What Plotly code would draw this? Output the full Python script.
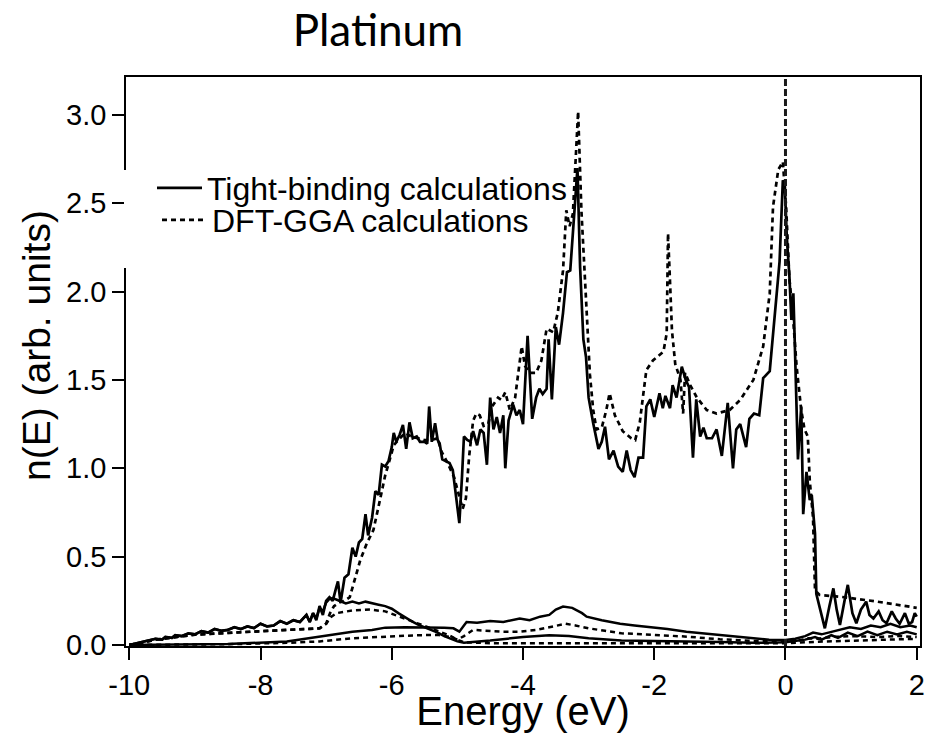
import plotly.graph_objects as go

# ---------------- data ----------------
x_tick_vals = [-10, -8, -6, -4, -2, 0, 2]
x_tick_text = ["-10", "-8", "-6", "-4", "-2", "0", "2"]
y_tick_vals = [0.0, 0.5, 1.0, 1.5, 2.0, 2.5, 3.0]
y_tick_text = ["0.0", "0.5", "1.0", "1.5", "2.0", "2.5", "3.0"]

fermi_energy = 0.0

# Tight-binding total DOS
tb_energy = [
    -10.0, -9.9, -9.8, -9.7, -9.6, -9.5, -9.45, -9.35, -9.3, -9.2,
    -9.1, -9.0, -8.9, -8.8, -8.7, -8.6, -8.5, -8.4, -8.3, -8.2,
    -8.1, -8.0, -7.9, -7.8, -7.7, -7.6, -7.5, -7.4, -7.3, -7.25,
    -7.2, -7.15, -7.1, -7.05, -7.0, -6.95, -6.9, -6.85, -6.82, -6.78,
    -6.72, -6.66, -6.6, -6.55, -6.5, -6.45, -6.4, -6.36, -6.3, -6.25,
    -6.2, -6.15, -6.1, -6.05, -6.0, -5.97, -5.93, -5.88, -5.83, -5.78,
    -5.73, -5.68, -5.62, -5.57, -5.5, -5.46, -5.43, -5.39, -5.34, -5.3,
    -5.27, -5.23, -5.17, -5.12, -5.07, -5.03, -4.97, -4.93, -4.9, -4.85,
    -4.8, -4.76, -4.7, -4.65, -4.6, -4.55, -4.5, -4.45, -4.4, -4.35,
    -4.3, -4.27, -4.22, -4.15, -4.1, -4.05, -4.0, -3.93, -3.86, -3.8,
    -3.75, -3.7, -3.64, -3.61, -3.56, -3.5, -3.45, -3.39, -3.33, -3.28,
    -3.22, -3.17, -3.13, -3.08, -3.04, -3.0, -2.93, -2.85, -2.8, -2.75,
    -2.69, -2.62, -2.55, -2.48, -2.42, -2.36, -2.3, -2.24, -2.17, -2.12,
    -2.06, -2.0, -1.92, -1.87, -1.83, -1.76, -1.72, -1.66, -1.58, -1.52,
    -1.47, -1.41, -1.36, -1.3, -1.25, -1.2, -1.12, -1.05, -0.97, -0.88,
    -0.8, -0.75, -0.69, -0.6, -0.55, -0.48, -0.4, -0.34, -0.24, -0.16,
    -0.09, -0.04, -0.01, 0.02, 0.06, 0.09, 0.12, 0.15, 0.19, 0.24,
    0.27, 0.32, 0.37, 0.40, 0.45, 0.47, 0.53, 0.60, 0.67, 0.73,
    0.78, 0.83, 0.90, 0.95, 1.02, 1.08, 1.15, 1.23, 1.28, 1.34,
    1.42, 1.48, 1.54, 1.62, 1.68, 1.74, 1.82, 1.88, 1.93, 1.97,
    2.0,
]
tb_dos = [
    0.0, 0.008, 0.015, 0.025, 0.035, 0.030, 0.045, 0.040, 0.055, 0.050,
    0.065, 0.060, 0.078, 0.070, 0.090, 0.080, 0.085, 0.100, 0.090, 0.105,
    0.095, 0.120, 0.105, 0.110, 0.135, 0.120, 0.140, 0.130, 0.170, 0.130,
    0.180, 0.140, 0.220, 0.170, 0.250, 0.270, 0.250, 0.320, 0.360, 0.240,
    0.380, 0.400, 0.550, 0.500, 0.580, 0.600, 0.740, 0.620, 0.720, 0.870,
    0.850, 1.020, 1.010, 1.040, 1.120, 1.200, 1.150, 1.190, 1.245, 1.110,
    1.260, 1.170, 1.180, 1.150, 1.150, 1.140, 1.350, 1.150, 1.255, 1.160,
    1.140, 1.050, 1.040, 1.030, 0.990, 0.870, 0.690, 0.950, 1.180, 1.160,
    1.150, 1.210, 1.130, 1.220, 1.200, 1.020, 1.400, 1.220, 1.290, 1.200,
    1.300, 1.000, 1.270, 1.360, 1.300, 1.330, 1.250, 1.750, 1.280, 1.400,
    1.450, 1.420, 1.450, 1.730, 1.390, 1.800, 1.700, 1.880, 2.110, 2.120,
    2.440, 2.700, 2.140, 1.730, 1.630, 1.400, 1.255, 1.110, 1.150, 1.235,
    1.050, 1.100, 1.010, 0.980, 1.100, 0.990, 0.950, 1.060, 1.060, 1.350,
    1.390, 1.290, 1.425, 1.340, 1.410, 1.340, 1.470, 1.400, 1.575, 1.500,
    1.460, 1.060, 1.390, 1.180, 1.230, 1.170, 1.170, 1.220, 1.070, 1.370,
    1.000, 1.220, 1.250, 1.120, 1.280, 1.310, 1.300, 1.510, 1.550, 1.880,
    2.170, 2.630, 2.600, 2.310, 2.085, 1.840, 1.990, 1.600, 1.050, 1.350,
    0.740, 0.980, 0.820, 0.850, 0.630, 0.290, 0.200, 0.094, 0.220, 0.320,
    0.200, 0.113, 0.250, 0.340, 0.180, 0.123, 0.200, 0.245, 0.170, 0.150,
    0.190, 0.140, 0.123, 0.190, 0.150, 0.120, 0.180, 0.120, 0.130, 0.180,
    0.160,
]

# DFT-GGA total DOS
dft_energy = [
    -10.0, -9.8, -9.63, -9.3, -9.0, -8.61, -8.2, -7.6, -7.1, -7.0,
    -6.94, -6.88, -6.8, -6.72, -6.64, -6.58, -6.48, -6.38, -6.28, -6.18,
    -6.1, -6.03, -5.97, -5.9, -5.8, -5.7, -5.6, -5.5, -5.4, -5.3,
    -5.25, -5.15, -5.05, -4.97, -4.92, -4.87, -4.82, -4.76, -4.71, -4.66,
    -4.6, -4.53, -4.47, -4.38, -4.33, -4.27, -4.2, -4.12, -4.02, -3.97,
    -3.9, -3.8, -3.72, -3.64, -3.54, -3.47, -3.39, -3.34, -3.29, -3.24,
    -3.16, -3.11, -3.06, -3.01, -2.98, -2.93, -2.88, -2.8, -2.73, -2.68,
    -2.6, -2.48, -2.35, -2.29, -2.22, -2.17, -2.12, -2.02, -1.86, -1.81,
    -1.79, -1.76, -1.73, -1.68, -1.6, -1.56, -1.53, -1.45, -1.35, -1.2,
    -1.05, -0.85, -0.69, -0.49, -0.34, -0.24, -0.19, -0.11, -0.04, 0.01,
    0.06, 0.11, 0.17, 0.24, 0.29, 0.34, 0.37, 0.42, 0.45, 0.52,
    0.9, 1.4, 2.0,
]
dft_dos = [
    0.0, 0.012, 0.028, 0.045, 0.058, 0.066, 0.075, 0.085, 0.094, 0.12,
    0.18, 0.22, 0.24, 0.25, 0.27, 0.35, 0.48, 0.575, 0.65, 0.82,
    0.96, 1.05, 1.13, 1.16, 1.20, 1.18, 1.17, 1.16, 1.16, 1.17,
    1.10, 1.03, 0.95, 0.83, 0.77, 0.83, 1.07, 1.27, 1.31, 1.30,
    1.24, 1.25, 1.35, 1.40, 1.387, 1.43, 1.33, 1.40, 1.69, 1.58,
    1.54, 1.54, 1.61, 1.79, 1.77, 1.88, 2.12, 2.46, 2.37, 2.44,
    3.02, 2.46, 2.07, 1.72, 1.53, 1.33, 1.22, 1.23, 1.33, 1.425,
    1.30, 1.21, 1.17, 1.16, 1.26, 1.41, 1.556, 1.61, 1.66, 1.764,
    2.33, 2.06, 1.78, 1.59, 1.50, 1.31, 1.54, 1.47, 1.40, 1.33,
    1.31, 1.33, 1.387, 1.50, 1.69, 1.99, 2.48, 2.69, 2.735, 2.48,
    2.07, 1.88, 1.575, 1.33, 1.22, 1.18, 0.93, 0.72, 0.31, 0.283,
    0.27, 0.245, 0.21,
]

# Tight-binding s-like partial DOS
tb_s_energy = [
    -10.0, -9.9, -9.8, -9.7, -9.6, -9.5, -9.45, -9.35, -9.3, -9.2,
    -9.1, -9.0, -8.9, -8.8, -8.7, -8.6, -8.5, -8.4, -8.3, -8.2,
    -8.1, -8.0, -7.9, -7.8, -7.7, -7.6, -7.5, -7.4, -7.3, -7.25,
    -7.2, -7.15, -7.1, -7.05, -7.0, -6.95, -6.9, -6.8, -6.7, -6.6,
    -6.5, -6.4, -6.3, -6.2, -6.1, -6.0, -5.9, -5.8, -5.7, -5.6,
    -5.5, -5.4, -5.3, -5.2, -5.1, -5.0, -4.9, -4.5, -4.0, -3.6,
    -3.3, -3.0, -2.5, -2.0, -1.5, -1.0, -0.5, 0.0, 0.3, 0.45,
    0.55, 0.7, 0.8, 0.95, 1.1, 1.25, 1.4, 1.55, 1.7, 1.85,
    2.0,
]
tb_s_dos = [
    0.0, 0.008, 0.015, 0.025, 0.035, 0.030, 0.045, 0.040, 0.055, 0.050,
    0.065, 0.060, 0.078, 0.070, 0.090, 0.080, 0.085, 0.100, 0.090, 0.105,
    0.095, 0.120, 0.105, 0.110, 0.135, 0.120, 0.140, 0.130, 0.170, 0.130,
    0.180, 0.150, 0.210, 0.190, 0.240, 0.260, 0.265, 0.250, 0.235, 0.245,
    0.235, 0.245, 0.235, 0.228, 0.220, 0.205, 0.180, 0.155, 0.135, 0.115,
    0.100, 0.085, 0.070, 0.050, 0.035, 0.020, 0.013, 0.025, 0.045, 0.055,
    0.050, 0.038, 0.025, 0.020, 0.019, 0.017, 0.012, 0.015, 0.030, 0.045,
    0.030, 0.055, 0.040, 0.070, 0.050, 0.075, 0.055, 0.075, 0.060, 0.075,
    0.060,
]

# DFT-GGA s-like partial DOS
dft_s_energy = [
    -10.0, -9.8, -9.63, -9.3, -9.0, -8.61, -8.2, -7.6, -7.1, -7.0,
    -6.92, -6.84, -6.6, -6.33, -6.1, -5.95, -5.83, -5.6, -5.3, -5.1,
    -5.0, -4.9, -4.5, -4.0, -3.0, -2.0, -1.0, 0.0, 0.5, 1.0,
    1.5, 2.0,
]
dft_s_dos = [
    0.0, 0.012, 0.028, 0.045, 0.058, 0.066, 0.075, 0.085, 0.094, 0.12,
    0.16, 0.18, 0.195, 0.20, 0.19, 0.17, 0.15, 0.12, 0.08, 0.05,
    0.03, 0.015, 0.01, 0.01, 0.009, 0.008, 0.008, 0.01, 0.018, 0.025,
    0.03, 0.035,
]

# Tight-binding p-like partial DOS
tb_p_energy = [
    -10.0, -8.5, -7.6, -7.1, -6.8, -6.6, -6.3, -6.1, -5.8, -5.5,
    -5.2, -5.06, -4.97, -4.9, -4.86, -4.7, -4.5, -4.3, -4.05, -3.9,
    -3.74, -3.6, -3.5, -3.39, -3.25, -3.1, -3.03, -2.8, -2.52, -2.3,
    -2.02, -1.8, -1.51, -1.25, -1.0, -0.75, -0.49, -0.25, 0.0, 0.15,
    0.3, 0.42, 0.55, 0.7, 0.85, 0.98, 1.15, 1.3, 1.45, 1.6,
    1.75, 1.9, 2.0,
]
tb_p_dos = [
    0.0, 0.005, 0.02, 0.047, 0.06, 0.075, 0.085, 0.098, 0.10, 0.10,
    0.098, 0.094, 0.075, 0.11, 0.13, 0.125, 0.135, 0.13, 0.15, 0.14,
    0.16, 0.17, 0.20, 0.217, 0.21, 0.18, 0.16, 0.14, 0.12, 0.11,
    0.10, 0.09, 0.075, 0.065, 0.057, 0.047, 0.038, 0.03, 0.028, 0.035,
    0.05, 0.07, 0.06, 0.075, 0.09, 0.10, 0.09, 0.11, 0.10, 0.12,
    0.10, 0.11, 0.10,
]

# DFT-GGA p-like partial DOS
dft_p_energy = [
    -10.0, -8.5, -7.6, -7.1, -6.6, -6.1, -5.6, -5.3, -5.1, -5.0,
    -4.9, -4.76, -4.5, -4.3, -4.05, -3.8, -3.6, -3.35, -3.2, -3.0,
    -2.75, -2.5, -2.0, -1.5, -1.0, -0.5, 0.0, 0.2, 0.35, 0.5,
    0.7, 1.0, 1.4, 1.7, 2.0,
]
dft_p_dos = [
    0.0, 0.004, 0.012, 0.02, 0.038, 0.047, 0.055, 0.057, 0.045, 0.03,
    0.05, 0.085, 0.08, 0.075, 0.075, 0.085, 0.10, 0.12, 0.11, 0.094,
    0.08, 0.066, 0.057, 0.047, 0.032, 0.023, 0.019, 0.025, 0.038, 0.035,
    0.045, 0.05, 0.045, 0.05, 0.045,
]

for a, b in [(tb_energy, tb_dos), (dft_energy, dft_dos), (tb_s_energy, tb_s_dos),
             (dft_s_energy, dft_s_dos), (tb_p_energy, tb_p_dos), (dft_p_energy, dft_p_dos)]:
    assert len(a) == len(b), (len(a), len(b))

# ---------------- figure ----------------
W, H = 942, 733
PL, PR, PT, PB = 126, 920, 77, 646          # plot-area edges in pixels
PW, PH = PR - PL, PB - PT

SANS = "Liberation Sans, Arial, Helvetica, sans-serif"
DASH = "5px,4px"

fig = go.Figure()

def add_line(x, y, dash="solid", width=2.6, name=None, legend=None, show=False):
    fig.add_trace(go.Scatter(
        x=x, y=y, mode="lines", name=name, showlegend=show,
        legend=legend if legend else "legend",
        line=dict(color="black", width=width, dash=dash),
        hoverinfo="skip"))

# partial densities of states
add_line(dft_s_energy, dft_s_dos, DASH, 2.5)
add_line(dft_p_energy, dft_p_dos, DASH, 2.5)
add_line(tb_s_energy, tb_s_dos, "solid", 2.5)
add_line(tb_p_energy, tb_p_dos, "solid", 2.5)
# totals
add_line(dft_energy, dft_dos, DASH, 2.7, "DFT-GGA calculations", "legend", True)
add_line(tb_energy, tb_dos, "solid", 2.7, "Tight-binding calculations", "legend2", True)

# Fermi level
fig.add_vline(x=fermi_energy, line=dict(color="#1a1a1a", width=3, dash="7px,3px"))

# white box behind the legend (interrupts the frame like the original)
fig.add_shape(type="rect", xref="paper", yref="paper", layer="above",
              x0=(124 - PL) / PW, x1=(200 - PL) / PW,
              y0=(PB - 268) / PH, y1=(PB - 170) / PH,
              fillcolor="white", line=dict(width=0))

# y-axis title (placed as in the original, slightly above the plot centre)
fig.add_annotation(text="n(E) (arb. units)", textangle=-90, showarrow=False,
                   xref="paper", yref="paper", x=(36 - PL) / PW, y=(PB - 346) / PH,
                   xanchor="center", yanchor="middle",
                   font=dict(size=39, family=SANS, color="black"))

fig.update_layout(
    width=W, height=H,
    margin=dict(l=PL, r=W - PR, t=PT, b=H - PB, pad=0),
    paper_bgcolor="white", plot_bgcolor="white",
    font=dict(family=SANS, color="black"),
    title=dict(text="Platinum", font=dict(family="Lato, Open Sans, sans-serif", size=44, color="black"),
               x=378 / W, xanchor="center", y=1 - 31 / H, yanchor="middle"),
    xaxis=dict(range=[-10.05, 2.05], tickvals=x_tick_vals, ticktext=x_tick_text,
               ticks="outside", ticklen=12, tickwidth=1.5, tickcolor="black",
               showline=True, linecolor="black", linewidth=1.5, mirror=True,
               showgrid=False, zeroline=False, automargin=False,
               tickfont=dict(size=29, family=SANS),
               title=dict(text="Energy (eV)", font=dict(size=40, family=SANS), standoff=2)),
    yaxis=dict(range=[-0.006, 3.215], tickvals=y_tick_vals, ticktext=y_tick_text,
               ticks="outside", ticklen=12, tickwidth=1.5, tickcolor="black",
               showline=True, linecolor="black", linewidth=1.5, mirror=True,
               showgrid=False, zeroline=False, automargin=False,
               tickfont=dict(size=29, family=SANS)),
    legend=dict(x=(157 - PL) / PW, y=(PB - 220) / PH, xanchor="left", yanchor="middle",
                bgcolor="rgba(0,0,0,0)", borderwidth=0, itemwidth=45,
                font=dict(size=32, family=SANS)),
    legend2=dict(x=(152 - PL) / PW, y=(PB - 188) / PH, xanchor="left", yanchor="middle",
                 bgcolor="rgba(0,0,0,0)", borderwidth=0, itemwidth=45,
                 font=dict(size=32, family=SANS)),
)

fig.write_html("out.html")
